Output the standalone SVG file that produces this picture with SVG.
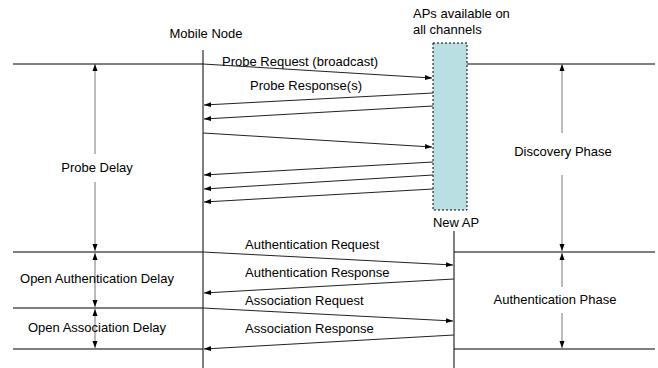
<svg xmlns="http://www.w3.org/2000/svg" width="658" height="368" viewBox="0 0 658 368">
<style>
text{font-family:"Liberation Sans",Arial,sans-serif;font-size:13px;fill:#000}
.l{stroke:#000;stroke-width:1;fill:none}
.m{stroke:#222;stroke-width:1;fill:none;marker-end:url(#ah)}
.da{stroke:#777;stroke-width:1;fill:none;marker-end:url(#ah)}
.ds{stroke:#777;stroke-width:1;fill:none;marker-start:url(#ahs);marker-end:url(#ah)}
</style>
<defs>
<marker id="ah" markerWidth="7" markerHeight="6" refX="7" refY="3" orient="auto" markerUnits="userSpaceOnUse"><path d="M0,0.5 L7,3 L0,5.5 Z" fill="#000"/></marker>
<marker id="ahs" markerWidth="7" markerHeight="6" refX="0" refY="3" orient="auto" markerUnits="userSpaceOnUse"><path d="M7,0.5 L0,3 L7,5.5 Z" fill="#000"/></marker>
</defs>
<g id="mobile-node">
<text x="206" y="38" text-anchor="middle">Mobile Node</text>
<line class="l" x1="203" y1="50" x2="203" y2="368"/>
</g>
<g id="aps">
<text x="413" y="18">APs available on</text>
<text x="413" y="34">all channels</text>
<rect x="433" y="43" width="34" height="167" fill="#b9dfe3" stroke="#000" stroke-width="1" stroke-dasharray="2,2"/>
</g>
<g id="new-ap">
<text x="456" y="227" text-anchor="middle">New AP</text>
<line class="l" x1="454" y1="231" x2="454" y2="368"/>
</g>
<g id="phase-lines">
<line class="l" x1="13" y1="64" x2="203" y2="64"/>
<line class="l" x1="467" y1="64" x2="655" y2="64"/>
<line class="l" x1="13" y1="252" x2="203" y2="252"/>
<line class="l" x1="454" y1="252" x2="655" y2="252"/>
<line class="l" x1="13" y1="308" x2="203" y2="308"/>
<line class="l" x1="13" y1="349" x2="203" y2="349"/>
<line class="l" x1="454" y1="349" x2="655" y2="349"/>
</g>
<g id="probe-delay">
<line class="da" x1="95" y1="154" x2="95" y2="64"/>
<line class="da" x1="95" y1="182" x2="95" y2="251"/>
<text x="97" y="172" text-anchor="middle">Probe Delay</text>
</g>
<g id="discovery-phase">
<line class="da" x1="562" y1="133" x2="562" y2="64"/>
<line class="da" x1="562" y1="175" x2="562" y2="251"/>
<text x="563" y="156" text-anchor="middle">Discovery Phase</text>
</g>
<g id="open-auth-delay">
<line class="ds" x1="95" y1="253" x2="95" y2="307"/>
<text x="97" y="283" text-anchor="middle">Open Authentication Delay</text>
</g>
<g id="open-assoc-delay">
<line class="ds" x1="95" y1="309" x2="95" y2="348"/>
<text x="97" y="332" text-anchor="middle">Open Association Delay</text>
</g>
<g id="auth-phase">
<line class="da" x1="562" y1="287" x2="562" y2="253"/>
<line class="da" x1="562" y1="313" x2="562" y2="348"/>
<text x="555" y="304" text-anchor="middle">Authentication Phase</text>
</g>
<g id="connectors">
<line class="m" x1="203" y1="64" x2="432" y2="78"/>
<line class="m" x1="433" y1="93" x2="204" y2="105"/>
<line class="m" x1="433" y1="106" x2="204" y2="119"/>
<line class="m" x1="203" y1="133" x2="432" y2="147"/>
<line class="m" x1="433" y1="162" x2="204" y2="175"/>
<line class="m" x1="433" y1="175" x2="204" y2="189"/>
<line class="m" x1="433" y1="189" x2="204" y2="202"/>
<line class="m" x1="203" y1="252" x2="453" y2="265"/>
<line class="m" x1="454" y1="279" x2="204" y2="293"/>
<line class="m" x1="203" y1="308" x2="453" y2="321"/>
<line class="m" x1="454" y1="335" x2="204" y2="349"/>
</g>
<g id="labels">
<text x="222" y="66">Probe Request (broadcast)</text>
<text x="250" y="90">Probe Response(s)</text>
<text x="245" y="249">Authentication Request</text>
<text x="245" y="277">Authentication Response</text>
<text x="245" y="305">Association Request</text>
<text x="245" y="333">Association Response</text>
</g>
</svg>
